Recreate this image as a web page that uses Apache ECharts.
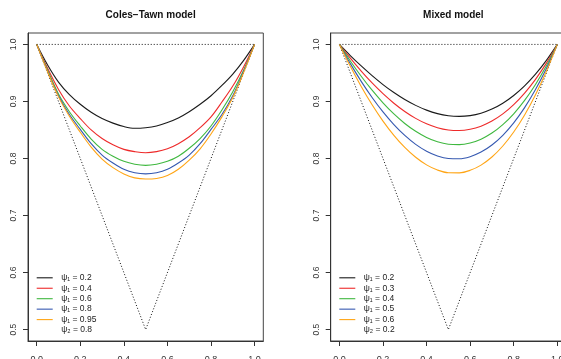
<!DOCTYPE html>
<html>
<head>
<meta charset="utf-8">
<script src="https://cdn.jsdelivr.net/npm/echarts@6/dist/echarts.min.js"></script>
<style>
html,body{margin:0;padding:0;background:#fff;}
#c{width:561px;height:359px;}
</style>
</head>
<body>
<div id="c"></div>
<script>
// ---- data ----
const tGrid = [0,0.05,0.1,0.15,0.2,0.25,0.3,0.35,0.4,0.45,0.5,0.55,0.6,0.65,0.7,0.75,0.8,0.85,0.9,0.95,1];

// tick labels
const xTicks = [0,0.2,0.4,0.6,0.8,1.0];
const yTicks = [0.5,0.6,0.7,0.8,0.9,1.0];

// Coles-Tawn model, psi2 = 0.8
const ctLabels = ['ψ₁ = 0.2','ψ₁ = 0.4','ψ₁ = 0.6','ψ₁ = 0.8','ψ₁ = 0.95'];
const ctExtra = 'ψ₂ = 0.8';
const ct1 = [1,0.964,0.934,0.912,0.895,0.881,0.870,0.862,0.856,0.853,0.854,0.857,0.863,0.871,0.882,0.895,0.910,0.928,0.948,0.972,1];
const ct2 = [1,0.958,0.921,0.892,0.870,0.850,0.835,0.824,0.816,0.812,0.810,0.812,0.817,0.826,0.838,0.854,0.873,0.899,0.927,0.961,1];
const ct3 = [1,0.955,0.913,0.882,0.857,0.834,0.816,0.804,0.795,0.790,0.788,0.790,0.795,0.804,0.818,0.835,0.857,0.885,0.917,0.955,1];
const ct4 = [1,0.953,0.910,0.877,0.851,0.826,0.806,0.792,0.781,0.775,0.773,0.775,0.781,0.792,0.806,0.826,0.851,0.877,0.910,0.953,1];
const ct5 = [1,0.952,0.908,0.874,0.846,0.820,0.799,0.784,0.773,0.766,0.764,0.765,0.770,0.781,0.797,0.817,0.843,0.873,0.907,0.951,1];

// Mixed model, psi2 = 0.2
const mxLabels = ['ψ₁ = 0.2','ψ₁ = 0.3','ψ₁ = 0.4','ψ₁ = 0.5','ψ₁ = 0.6'];
const mxExtra = 'ψ₂ = 0.2';
const mx1 = [1,0.9805,0.9622,0.9452,0.9296,0.9156,0.9034,0.8931,0.8848,0.8787,0.875,0.8738,0.8752,0.8794,0.8866,0.8969,0.9104,0.9273,0.9478,0.9720,1];
const mx2 = [1,0.9758,0.9532,0.9324,0.9136,0.8969,0.8824,0.8703,0.8608,0.8540,0.85,0.8490,0.8512,0.8567,0.8656,0.8781,0.8944,0.9146,0.9388,0.9672,1];
const mx3 = [1,0.9710,0.9442,0.9197,0.8976,0.8781,0.8614,0.8476,0.8368,0.8292,0.825,0.8243,0.8272,0.8339,0.8446,0.8594,0.8784,0.9018,0.9298,0.9625,1];
const mx4 = [1,0.9663,0.9352,0.9069,0.8816,0.8594,0.8404,0.8248,0.8128,0.8045,0.8,0.7995,0.8032,0.8112,0.8236,0.8406,0.8624,0.8891,0.9208,0.9577,1];
const mx5 = [1,0.9615,0.9262,0.8942,0.8656,0.8406,0.8194,0.8021,0.7888,0.7797,0.775,0.7748,0.7792,0.7884,0.8026,0.8219,0.8464,0.8763,0.9118,0.9530,1];

// bounds (dotted)
const topX = [0,1];
const topY = [1,1];
const vX = [0,0.5,1];
const vY = [1,0.5,1];

const titles = ['Coles\u2212Tawn model','Mixed model'];
const colors = ['#1a1a1a','#ee2a2a','#3fb83f','#3558b0','#ffa515'];

// ---- layout ----
const FONT = 'Liberation Sans, Arial, Helvetica, sans-serif';
const panels = [
  {curves:[ct1,ct2,ct3,ct4,ct5], labels:ctLabels, extra:ctExtra, boxLeft:28, legX:36.7},
  {curves:[mx1,mx2,mx3,mx4,mx5], labels:mxLabels, extra:mxExtra, boxLeft:330.7, legX:339.3}
];
const boxTop = 33, boxW = 235.3, boxH = 308;

const zip = (xs, ys) => xs.map((x,i)=>[x, ys[i]]);

const grids=[], xAxes=[], yAxes=[], series=[], graphics=[], titleOpts=[];
panels.forEach((p, pi) => {
  grids.push({left:p.boxLeft, top:boxTop, width:boxW, height:boxH, containLabel:false, outerBoundsMode:'none',
    show:true, borderColor:'#444', borderWidth:1, backgroundColor:'transparent'});
  xAxes.push({
    type:'value', gridIndex:pi, min:-0.04, max:1.04,
    axisLine:{show:true, onZero:false, lineStyle:{color:'#333', width:1}},
    axisTick:{show:true, length:5, customValues:xTicks, lineStyle:{color:'#333'}},
    axisLabel:{margin:14, fontSize:9, color:'#333', fontFamily:FONT, customValues:xTicks, formatter:v=>v.toFixed(1)},
    splitLine:{show:false}
  });
  yAxes.push({
    type:'value', gridIndex:pi, min:0.48, max:1.02,
    axisLine:{show:true, onZero:false, lineStyle:{color:'#333', width:1}},
    axisTick:{show:true, length:5, customValues:yTicks, lineStyle:{color:'#333'}},
    axisLabel:{rotate:90, margin:10, fontSize:8.5, color:'#333', fontFamily:FONT, customValues:yTicks, formatter:v=>v.toFixed(1)},
    splitLine:{show:false}
  });
  // dotted bounds
  series.push({type:'line', xAxisIndex:pi, yAxisIndex:pi, data:zip(topX, topY), showSymbol:false, clip:false, silent:true,
    lineStyle:{color:'#111', width:1, type:[1,2]}});
  series.push({type:'line', xAxisIndex:pi, yAxisIndex:pi, data:zip(vX, vY), showSymbol:false, clip:false, silent:true,
    lineStyle:{color:'#111', width:1, type:[1,2]}});
  p.curves.forEach((c, ci) => {
    series.push({type:'line', name:p.labels[ci], xAxisIndex:pi, yAxisIndex:pi, data:zip(tGrid, c),
      showSymbol:false, smooth:0.35, clip:false, silent:true,
      lineStyle:{color:colors[ci], width:1.1}});
  });
  // title
  titleOpts.push({text:titles[pi], left:p.boxLeft + boxW/2, top:5, textAlign:'center',
    textStyle:{fontSize:10, fontWeight:'bold', color:'#111', fontFamily:FONT}});
  // legend
  const lx0 = p.legX, lx1 = p.legX + 16, tx = p.legX + 24.5;
  const rowY0 = 277.8, rowH = 10.45;
  p.labels.forEach((lab, li) => {
    const y = rowY0 + li*rowH;
    graphics.push({type:'line', shape:{x1:lx0, y1:y, x2:lx1, y2:y}, style:{stroke:colors[li], lineWidth:1.1}, silent:true});
    graphics.push({type:'text', x:tx, y:y, style:{text:lab, fontSize:8.5, fill:'#222', fontFamily:FONT, textAlign:'left', textVerticalAlign:'middle'}, silent:true});
  });
  graphics.push({type:'text', x:tx, y:rowY0 + 5*rowH, style:{text:p.extra, fontSize:8.5, fill:'#222', fontFamily:FONT, textAlign:'left', textVerticalAlign:'middle'}, silent:true});
});

const chart = echarts.init(document.getElementById('c'), null, {renderer:'canvas'});
chart.setOption({
  animation:false,
  backgroundColor:'#fff',
  title:titleOpts,
  grid:grids,
  xAxis:xAxes,
  yAxis:yAxes,
  series:series,
  graphic:graphics
});
</script>
</body>
</html>
